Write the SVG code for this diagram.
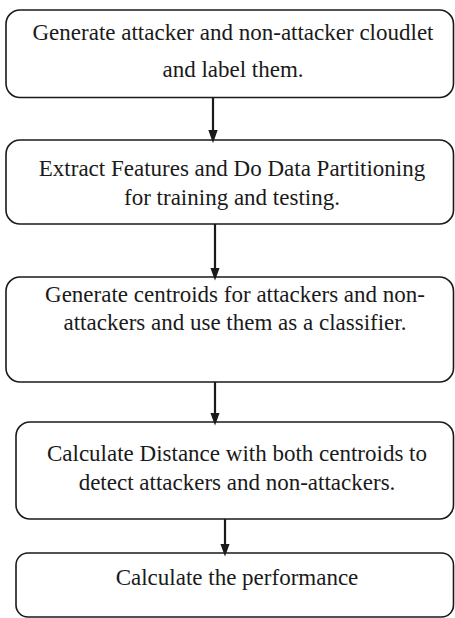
<svg xmlns="http://www.w3.org/2000/svg" width="455" height="618" viewBox="0 0 455 618">
<style>
.box{fill:#fff;stroke:#1a1a1a;stroke-width:1.6}
.t{font-family:"Liberation Serif","Times New Roman",serif;font-size:23px;fill:#1a1a1a;text-anchor:middle}
.c{stroke:#1a1a1a;stroke-width:2.2;fill:none}
</style>
<defs>
<marker id="ah" markerUnits="userSpaceOnUse" markerWidth="13" markerHeight="18" refX="13" refY="6.5" orient="auto" viewBox="0 0 18 13">
<path d="M0,0 L18,6.5 L0,13 Z" fill="#1a1a1a"/>
</marker>
</defs>
<rect width="455" height="618" fill="#fff"/>
<g id="n1">
<rect class="box" x="6" y="10" width="447.5" height="87.5" rx="14"/>
<text class="t" x="233" y="40">Generate attacker and non-attacker cloudlet</text>
<text class="t" x="233" y="77">and label them.</text>
</g>
<g id="n2">
<rect class="box" x="6" y="140" width="447.5" height="84" rx="14"/>
<text class="t" x="232" y="176">Extract Features and Do Data Partitioning</text>
<text class="t" x="232" y="205">for training and testing.</text>
</g>
<g id="n3">
<rect class="box" x="6" y="277" width="447.5" height="105" rx="14"/>
<text class="t" x="235" y="302">Generate centroids for attackers and non-</text>
<text class="t" x="235" y="330">attackers and use them as a classifier.</text>
</g>
<g id="n4">
<rect class="box" x="16" y="422" width="437.5" height="97" rx="14"/>
<text class="t" x="237" y="461">Calculate Distance with both centroids to</text>
<text class="t" x="237" y="490">detect attackers and non-attackers.</text>
</g>
<g id="n5">
<rect class="box" x="16" y="553" width="437.5" height="64" rx="12"/>
<text class="t" x="237" y="585">Calculate the performance</text>
</g>
<g id="connectors">
<line class="c" x1="213" y1="97.5" x2="213" y2="139.5" marker-end="url(#ah)"/>
<line class="c" x1="215" y1="224" x2="215" y2="277" marker-end="url(#ah)"/>
<line class="c" x1="215" y1="382" x2="215" y2="422" marker-end="url(#ah)"/>
<line class="c" x1="225" y1="519" x2="225" y2="553" marker-end="url(#ah)"/>
</g>
</svg>
